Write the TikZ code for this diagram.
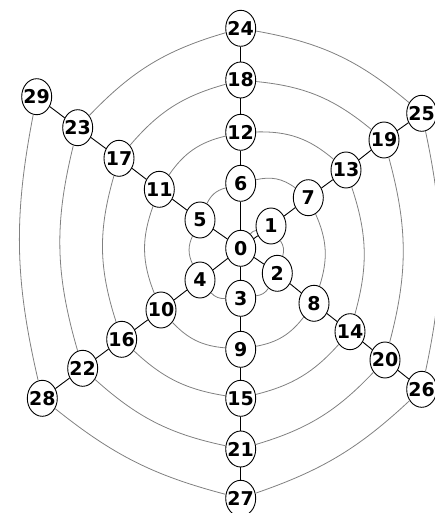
\documentclass[tikz,border=0pt]{standalone}
\usepackage{fontspec}
\setmainfont{DejaVu Sans}
\usetikzlibrary{shapes.geometric}
\tikzset{
  vx/.style={ellipse,draw=black,line width=0.9pt,fill=white,minimum width=30pt,minimum height=36pt,inner sep=0pt,font=\fontsize{19}{19}\selectfont\bfseries},
  spoke/.style={draw=black,line width=0.9pt},
  ring/.style={draw=black!50,line width=0.8pt}
}
\begin{document}
\begin{tikzpicture}[x=1pt,y=1pt]
\useasboundingbox (0,0) rectangle (435,-513);
\foreach \n/\x/\y in {0/240.7/248.3,1/271/226,2/277.3/273.3,3/240.7/298.3,4/200/280,5/200/220,
  6/240.7/183.3,7/308.3/197.7,8/314/303.3,9/240.7/349.3,10/161/310,11/159.3/189.3,
  12/240.7/132.3,13/346/170,14/350/331.7,15/240.7/398.3,16/121.7/339.3,17/119/158.3,
  18/240.7/80,19/384/140,20/385/360,21/240.7/449,22/82.7/368.3,23/77.7/127.7,
  24/240.7/28.3,25/421.7/113.3,26/421.7/389.3,27/240.7/498.3,28/42.3/398.3,29/36.7/96.7}
  \node[vx] (n\n) at (\x,-\y) {\makebox[0pt]{\n}};
% spokes
\foreach \b in {1,...,6} \draw[spoke] (n0) -- (n\b);
\foreach \a in {1,...,23} {
  \pgfmathtruncatemacro\b{\a+6}
  \draw[spoke] (n\a) -- (n\b);
}
% spiral
\draw[ring] (n0) to[bend left=20] (n1);
\foreach \a/\b in {1/2,2/3,3/4,4/5,5/6,6/7} \draw[ring] (n\a) to[bend left=25] (n\b);
\foreach \a/\b in {7/8,8/9,9/10,10/11,11/12,12/13} \draw[ring] (n\a) to[bend left=21] (n\b);
\foreach \a/\b in {13/14,14/15,15/16,16/17,17/18,18/19} \draw[ring] (n\a) to[bend left=17] (n\b);
\foreach \a/\b in {19/20,20/21,21/22,22/23,23/24,24/25} \draw[ring] (n\a) to[bend left=15] (n\b);
\foreach \a/\b in {25/26,26/27,27/28,28/29} \draw[ring] (n\a) to[bend left=12] (n\b);
\end{tikzpicture}
\end{document}
